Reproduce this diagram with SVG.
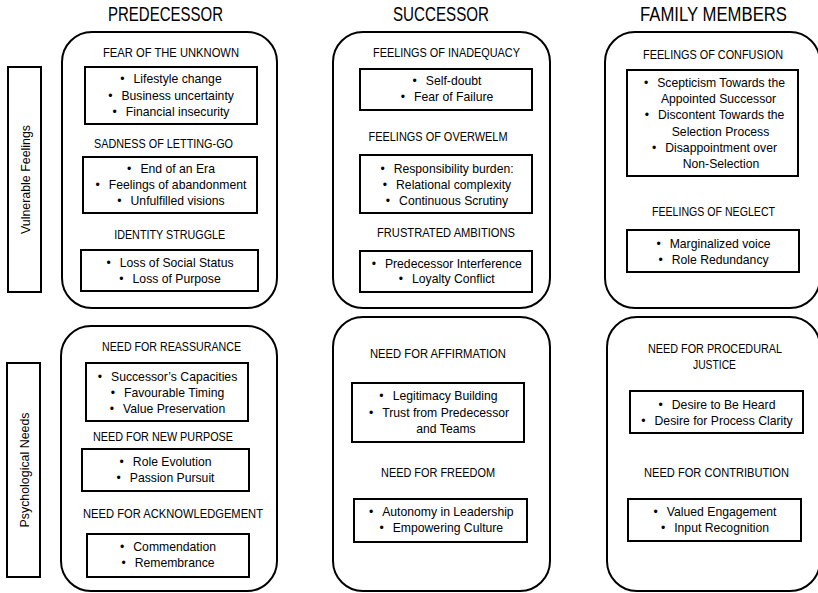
<svg xmlns="http://www.w3.org/2000/svg" width="818" height="593" viewBox="0 0 818 593">
<style>
  .panel { fill: #fff; stroke: #000; stroke-width: 2; }
  .box { fill: #fff; stroke: #000; stroke-width: 2; }
  .lab { fill: #fff; stroke: #000; stroke-width: 2; }
  text { font-family: "Liberation Sans", Arial, sans-serif; fill: #000; text-anchor: middle; }
  .title { font-size: 19.5px; }
  .h { font-size: 12px; }
  .b { font-size: 12.2px; }
  .rl { font-size: 12.4px; }
</style>
<rect width="818" height="593" fill="#fff"/>

<g id="col-titles">
  <text class="title" x="165.5" y="21" textLength="115" lengthAdjust="spacingAndGlyphs">PREDECESSOR</text>
  <text class="title" x="441" y="20.7" textLength="96" lengthAdjust="spacingAndGlyphs">SUCCESSOR</text>
  <text class="title" x="713.5" y="20.7" textLength="147" lengthAdjust="spacingAndGlyphs">FAMILY MEMBERS</text>
</g>

<g id="row-vulnerable">
  <rect class="lab" x="8" y="67" width="33" height="225"/>
  <text class="rl" transform="translate(30 179.5) rotate(-90)">Vulnerable Feelings</text>
</g>
<g id="row-needs">
  <rect class="lab" x="7" y="363" width="33" height="214"/>
  <text class="rl" transform="translate(28.5 470) rotate(-90)">Psychological Needs</text>
</g>

<!-- PREDECESSOR / vulnerable -->
<g id="pred-feelings">
  <rect class="panel" x="62" y="32" width="215" height="276" rx="30"/>
  <g id="pred-fear">
    <text class="h" x="171" y="57" textLength="136" lengthAdjust="spacingAndGlyphs">FEAR OF THE UNKNOWN</text>
    <rect class="box" x="85" y="67" width="172" height="57"/>
    <text class="b" x="171" y="83">•<tspan dx="9">Lifestyle change</tspan></text>
    <text class="b" x="171" y="100">•<tspan dx="9">Business uncertainty</tspan></text>
    <text class="b" x="171" y="116">•<tspan dx="9">Financial insecurity</tspan></text>
  </g>
  <g id="pred-sadness">
    <text class="h" x="163.5" y="148" textLength="139" lengthAdjust="spacingAndGlyphs">SADNESS OF LETTING-GO</text>
    <rect class="box" x="83" y="157" width="174" height="56"/>
    <text class="b" x="171" y="173">•<tspan dx="9">End of an Era</tspan></text>
    <text class="b" x="171" y="189">•<tspan dx="9">Feelings of abandonment</tspan></text>
    <text class="b" x="171" y="204.5">•<tspan dx="9">Unfulfilled visions</tspan></text>
  </g>
  <g id="pred-identity">
    <text class="h" x="169.7" y="239" textLength="111" lengthAdjust="spacingAndGlyphs">IDENTITY STRUGGLE</text>
    <rect class="box" x="81" y="250" width="177" height="41"/>
    <text class="b" x="170" y="267">•<tspan dx="9">Loss of Social Status</tspan></text>
    <text class="b" x="170" y="283">•<tspan dx="9">Loss of Purpose</tspan></text>
  </g>
</g>

<!-- PREDECESSOR / needs -->
<g id="pred-needs">
  <rect class="panel" x="61" y="326" width="216" height="265" rx="30"/>
  <g id="pred-reassurance">
    <text class="h" x="171.5" y="350.5" textLength="139" lengthAdjust="spacingAndGlyphs">NEED FOR REASSURANCE</text>
    <rect class="box" x="86" y="363" width="162" height="58"/>
    <text class="b" x="167.5" y="380.5">•<tspan dx="9">Successor’s Capacities</tspan></text>
    <text class="b" x="167.5" y="396.7">•<tspan dx="9">Favourable Timing</tspan></text>
    <text class="b" x="167.5" y="412.5">•<tspan dx="9">Value Preservation</tspan></text>
  </g>
  <g id="pred-purpose">
    <text class="h" x="163" y="440.5" textLength="140" lengthAdjust="spacingAndGlyphs">NEED FOR NEW PURPOSE</text>
    <rect class="box" x="82" y="449" width="167" height="42"/>
    <text class="b" x="165.5" y="465.7">•<tspan dx="9">Role Evolution</tspan></text>
    <text class="b" x="165.5" y="481.7">•<tspan dx="9">Passion Pursuit</tspan></text>
  </g>
  <g id="pred-acknowledgement">
    <text class="h" x="173" y="518" textLength="180" lengthAdjust="spacingAndGlyphs">NEED FOR ACKNOWLEDGEMENT</text>
    <rect class="box" x="87" y="534" width="162" height="43"/>
    <text class="b" x="168" y="550.7">•<tspan dx="9">Commendation</tspan></text>
    <text class="b" x="168" y="567">•<tspan dx="9">Remembrance</tspan></text>
  </g>
</g>

<!-- SUCCESSOR / vulnerable -->
<g id="succ-feelings">
  <rect class="panel" x="333" y="32" width="217" height="276" rx="30"/>
  <g id="succ-inadequacy">
    <text class="h" x="446.5" y="57" textLength="147" lengthAdjust="spacingAndGlyphs">FEELINGS OF INADEQUACY</text>
    <rect class="box" x="360" y="69" width="172" height="41"/>
    <text class="b" x="447" y="84.5">•<tspan dx="9">Self-doubt</tspan></text>
    <text class="b" x="447" y="101">•<tspan dx="9">Fear of Failure</tspan></text>
  </g>
  <g id="succ-overwhelm">
    <text class="h" x="438" y="140.5" textLength="139" lengthAdjust="spacingAndGlyphs">FEELINGS OF OVERWELM</text>
    <rect class="box" x="360" y="155" width="172" height="58"/>
    <text class="b" x="447" y="173">•<tspan dx="9">Responsibility burden:</tspan></text>
    <text class="b" x="447" y="189">•<tspan dx="9">Relational complexity</tspan></text>
    <text class="b" x="447" y="205">•<tspan dx="9">Continuous Scrutiny</tspan></text>
  </g>
  <g id="succ-frustrated">
    <text class="h" x="446" y="236.5" textLength="138" lengthAdjust="spacingAndGlyphs">FRUSTRATED AMBITIONS</text>
    <rect class="box" x="360" y="251" width="172" height="41"/>
    <text class="b" x="446.7" y="267.5">•<tspan dx="9">Predecessor Interference</tspan></text>
    <text class="b" x="446.7" y="283.3">•<tspan dx="9">Loyalty Conflict</tspan></text>
  </g>
</g>

<!-- SUCCESSOR / needs -->
<g id="succ-needs">
  <rect class="panel" x="333" y="317" width="217" height="274" rx="30"/>
  <g id="succ-affirmation">
    <text class="h" x="438" y="358" textLength="136" lengthAdjust="spacingAndGlyphs">NEED FOR AFFIRMATION</text>
    <rect class="box" x="352" y="383" width="172" height="59"/>
    <text class="b" x="438.5" y="400">•<tspan dx="9">Legitimacy Building</tspan></text>
    <text class="b" x="439" y="416.5">•<tspan dx="9">Trust from Predecessor</tspan></text>
    <text class="b" x="446" y="432.5">and Teams</text>
  </g>
  <g id="succ-freedom">
    <text class="h" x="438" y="477" textLength="114" lengthAdjust="spacingAndGlyphs">NEED FOR FREEDOM</text>
    <rect class="box" x="354" y="499" width="173" height="43"/>
    <text class="b" x="441.3" y="516">•<tspan dx="9">Autonomy in Leadership</tspan></text>
    <text class="b" x="441.3" y="532.3">•<tspan dx="9">Empowering Culture</tspan></text>
  </g>
</g>

<!-- FAMILY / vulnerable -->
<g id="fam-feelings">
  <rect class="panel" x="605" y="32" width="215" height="276" rx="30"/>
  <g id="fam-confusion">
    <text class="h" x="713" y="59" textLength="140" lengthAdjust="spacingAndGlyphs">FEELINGS OF CONFUSION</text>
    <rect class="box" x="627" y="70" width="171" height="106"/>
    <text class="b" x="714.5" y="86.7">•<tspan dx="9">Scepticism Towards the</tspan></text>
    <text class="b" x="718.5" y="103">Appointed Successor</text>
    <text class="b" x="714.5" y="119">•<tspan dx="9">Discontent Towards the</tspan></text>
    <text class="b" x="720.5" y="135.5">Selection Process</text>
    <text class="b" x="714.5" y="151.7">•<tspan dx="9">Disappointment over</tspan></text>
    <text class="b" x="721" y="167.5">Non-Selection</text>
  </g>
  <g id="fam-neglect">
    <text class="h" x="713.5" y="215.5" textLength="123" lengthAdjust="spacingAndGlyphs">FEELINGS OF NEGLECT</text>
    <rect class="box" x="627" y="230" width="172" height="42"/>
    <text class="b" x="713.5" y="248">•<tspan dx="9">Marginalized voice</tspan></text>
    <text class="b" x="713.5" y="264">•<tspan dx="9">Role Redundancy</tspan></text>
  </g>
</g>

<!-- FAMILY / needs -->
<g id="fam-needs">
  <rect class="panel" x="607" y="317" width="213" height="274" rx="30"/>
  <g id="fam-justice">
    <text class="h" x="715" y="353" textLength="134" lengthAdjust="spacingAndGlyphs">NEED FOR PROCEDURAL</text>
    <text class="h" x="714.5" y="369.3" textLength="43" lengthAdjust="spacingAndGlyphs">JUSTICE</text>
    <rect class="box" x="630" y="391" width="173" height="42"/>
    <text class="b" x="717" y="409">•<tspan dx="9">Desire to Be Heard</tspan></text>
    <text class="b" x="717" y="425">•<tspan dx="9">Desire for Process Clarity</tspan></text>
  </g>
  <g id="fam-contribution">
    <text class="h" x="716.5" y="476.5" textLength="145" lengthAdjust="spacingAndGlyphs">NEED FOR CONTRIBUTION</text>
    <rect class="box" x="628" y="499" width="173" height="42"/>
    <text class="b" x="715" y="516">•<tspan dx="9">Valued Engagement</tspan></text>
    <text class="b" x="715" y="532.3">•<tspan dx="9">Input Recognition</tspan></text>
  </g>
</g>

<g id="connectors"></g>
</svg>
